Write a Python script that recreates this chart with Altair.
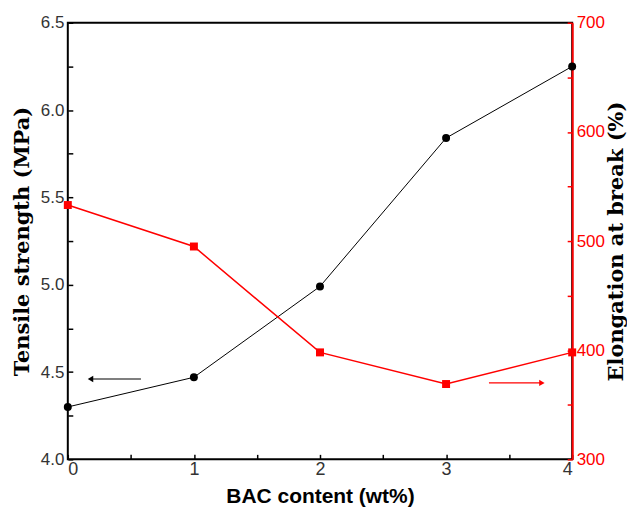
import altair as alt
import pandas as pd

# ---- data ----
bac_content = [0, 1, 2, 3, 4]
tensile_strength = [4.30, 4.47, 4.99, 5.84, 6.25]
elongation = [533, 495, 398, 369, 398]

# arrow annotations (data units)
black_arrow_x = [0.18, 0.58]     # head at the first value (points left)
black_arrow_y = [4.46]
red_arrow_x = [3.34, 3.76]       # head at the last value (points right)
red_arrow_y = [370]              # elongation units

x_tick_values = [0, 0.5, 1, 1.5, 2, 2.5, 3, 3.5, 4]
left_tick_values = [4.0, 4.25, 4.5, 4.75, 5.0, 5.25, 5.5, 5.75, 6.0, 6.25, 6.5]
right_tick_values = [300, 350, 400, 450, 500, 550, 600, 650, 700]

df = pd.DataFrame({"bac": bac_content, "tensile": tensile_strength, "elong": elongation})
black_arrow = pd.DataFrame({"x": [black_arrow_x[0]], "x2": [black_arrow_x[1]], "y": black_arrow_y})
red_arrow = pd.DataFrame({"x": [red_arrow_x[0]], "x2": [red_arrow_x[1]], "y": red_arrow_y})

W, H = 506, 438
RED = "#ff0000"
SERIF = "DejaVu Serif"
SANS = "Liberation Sans"

x_scale = alt.Scale(domain=[0, 4], nice=False, zero=False)
left_scale = alt.Scale(domain=[4.0, 6.5], nice=False, zero=False)
right_scale = alt.Scale(domain=[300, 700], nice=False, zero=False)

x_axis = alt.Axis(
    values=x_tick_values,
    labelExpr="datum.value % 1 == 0 ? format(datum.value, 'd') : ''",
    offset=-5, tickSize=5, tickWidth=1.5, tickColor="black",
    domain=False, grid=False,
    labelFont=SANS, labelFontSize=18, labelColor="#333333", labelPadding=1,
    title="BAC content (wt%)", titleFont=SANS, titleFontSize=21,
    titleFontWeight="bold", titleColor="black", titlePadding=7,
)

left_axis = alt.Axis(
    orient="left",
    values=left_tick_values,
    labelExpr="datum.value % 0.5 == 0 ? format(datum.value, '.1f') : ''",
    offset=-5, tickSize=5, tickWidth=1.5, tickColor="black",
    domain=False, grid=False,
    labelFont=SANS, labelFontSize=17, labelColor="#333333", labelPadding=4,
    title="Tensile strength (MPa)", titleFont=SERIF, titleFontSize=21,
    titleFontWeight="bold", titleColor="black", titlePadding=8,
)

right_axis = alt.Axis(
    orient="right",
    values=right_tick_values,
    labelExpr="datum.value % 100 == 0 ? format(datum.value, 'd') : ''",
    offset=-5, tickSize=5, tickWidth=1.5, tickColor=RED,
    domain=False, grid=False,
    labelFont=SANS, labelFontSize=17, labelColor=RED, labelPadding=4,
    title="Elongation at break (%)", titleFont=SERIF, titleFontSize=21,
    titleFontWeight="bold", titleColor="black", titlePadding=1,
    titleAngle=270, titleBaseline="top",
)

x_enc = alt.X("bac:Q", scale=x_scale, axis=x_axis)

# --- tensile (left axis) group ---
base_black = alt.Chart(df).encode(x=x_enc, y=alt.Y("tensile:Q", scale=left_scale, axis=left_axis))
black_line = base_black.mark_line(color="black", strokeWidth=1)
black_pts = base_black.mark_point(shape="circle", filled=True, color="black", size=64, opacity=1)

black_shaft = alt.Chart(black_arrow).mark_rule(color="black", strokeWidth=1.2).encode(
    x=alt.X("x:Q", scale=x_scale), x2="x2:Q", y=alt.Y("y:Q", scale=left_scale)
)
black_head = alt.Chart(black_arrow).mark_point(
    shape="triangle-left", filled=True, color="black", size=40, opacity=1
).encode(x=alt.X("x:Q", scale=x_scale), y=alt.Y("y:Q", scale=left_scale))

left_group = alt.layer(black_line, black_pts, black_shaft, black_head)

# --- elongation (right axis) group ---
base_red = alt.Chart(df).encode(x=x_enc, y=alt.Y("elong:Q", scale=right_scale, axis=right_axis))
red_line = base_red.mark_line(color=RED, strokeWidth=1.5)
red_pts = base_red.mark_point(shape="square", filled=True, color=RED, size=64, opacity=1)

red_shaft = alt.Chart(red_arrow).mark_rule(color=RED, strokeWidth=1.2).encode(
    x=alt.X("x:Q", scale=x_scale), x2="x2:Q", y=alt.Y("y:Q", scale=right_scale)
)
red_head = alt.Chart(red_arrow).mark_point(
    shape="triangle-right", filled=True, color=RED, size=40, opacity=1
).encode(x=alt.X("x2:Q", scale=x_scale), y=alt.Y("y:Q", scale=right_scale))

right_group = alt.layer(red_line, red_pts, red_shaft, red_head)

# red right-hand spine
red_spine = alt.Chart(df).mark_line(opacity=0).encode(
    x=x_enc,
    y=alt.Y("elong:Q", scale=right_scale,
            axis=alt.Axis(orient="right", domain=True, domainColor=RED, domainWidth=2,
                          ticks=False, labels=False, title=None, grid=False)),
)

chart = (
    alt.layer(left_group, right_group, red_spine)
    .resolve_scale(y="independent")
    .properties(width=W, height=H, background="white",
                padding={"left": 3, "top": 5, "right": 0, "bottom": 0})
    .configure_view(stroke="black", strokeWidth=2)
)

chart.save("out.html", embed_options={"renderer": "svg", "actions": False})
